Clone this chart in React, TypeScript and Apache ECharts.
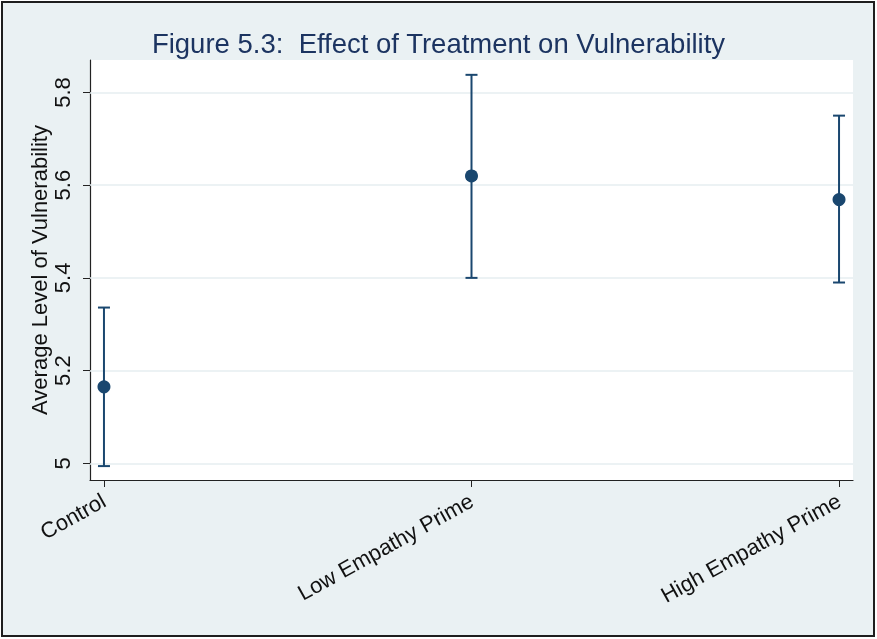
import React, { useEffect, useRef } from "react";
import * as echarts from "echarts";

const categories = ["Control", "Low Empathy Prime", "High Empathy Prime"];
const means = [5.165, 5.62, 5.569];
const lowers = [4.994, 5.4, 5.39];
const uppers = [5.336, 5.838, 5.75];
const yTicks = [5, 5.2, 5.4, 5.6, 5.8];
const xTicks = [0, 1, 2];

const FONT = "'Liberation Sans', Arial, Helvetica, sans-serif";
const NAVY = "#1a476f";

export default function App() {
  const ref = useRef<HTMLDivElement>(null);
  useEffect(() => {
    if (!ref.current) return;
    const chart = echarts.init(ref.current, undefined, { renderer: "svg" });
    const pts = categories.map((_, i) => [i, means[i]]);
    const bars = categories.map((_, i) => [i, lowers[i], uppers[i]]);
    chart.setOption({
      animation: false,
      backgroundColor: "transparent",
      textStyle: { fontFamily: FONT },
      graphic: [
        {
          type: "rect",
          z: -10,
          silent: true,
          shape: { x: 2, y: 2, width: 872, height: 634 },
          style: { fill: "#EAF1F3", stroke: "#1e1e1e", lineWidth: 2 },
        },
      ],
      title: {
        text: "Figure 5.3:  Effect of Treatment on Vulnerability",
        left: "center",
        top: 24,
        textStyle: { fontFamily: FONT, fontSize: 27.5, fontWeight: "normal", color: "#1c3461" },
      },
      grid: {
        left: 90,
        top: 60,
        right: 24,
        bottom: 159,
        show: true,
        backgroundColor: "#ffffff",
        borderWidth: 0,
      },
      xAxis: {
        type: "value",
        min: -0.038,
        max: 2.038,
        splitLine: { show: false },
        axisLine: { show: true, onZero: false, lineStyle: { color: "#222", width: 1.2 } },
        axisTick: { show: true, customValues: xTicks, length: 7, lineStyle: { color: "#222" } },
        axisLabel: {
          customValues: xTicks,
          formatter: (v: number) => categories[Math.round(v)] ?? "",
          rotate: 29,
          margin: 19,
          fontSize: 22,
          fontFamily: FONT,
          color: "#111",
        },
      },
      yAxis: {
        type: "value",
        min: 4.964,
        max: 5.87,
        name: "Average Level of Vulnerability",
        nameLocation: "middle",
        nameRotate: 90,
        nameGap: 40,
        nameMoveOverlap: false,
        nameTextStyle: { fontFamily: FONT, fontSize: 22, color: "#111" },
        splitLine: { show: false },
        axisLine: { show: true, onZero: false, lineStyle: { color: "#222", width: 1.2 } },
        axisTick: { show: true, customValues: yTicks, length: 7, lineStyle: { color: "#222" } },
        axisLabel: {
          customValues: yTicks,
          formatter: (v: number) => String(Math.round(v * 10) / 10),
          rotate: 90,
          margin: 17,
          fontSize: 22,
          fontFamily: FONT,
          color: "#111",
        },
      },
      series: [
        {
          type: "custom",
          z: 3,
          data: bars,
          renderItem: (params: any, api: any) => {
            const x = api.value(0);
            const lo = api.coord([x, api.value(1)]);
            const hi = api.coord([x, api.value(2)]);
            const w = 6;
            const st = { stroke: NAVY, lineWidth: 2 };
            return {
              type: "group",
              children: [
                { type: "line", shape: { x1: lo[0], y1: lo[1], x2: hi[0], y2: hi[1] }, style: st },
                { type: "line", shape: { x1: lo[0] - w, y1: lo[1], x2: lo[0] + w, y2: lo[1] }, style: st },
                { type: "line", shape: { x1: hi[0] - w, y1: hi[1], x2: hi[0] + w, y2: hi[1] }, style: st },
              ],
            };
          },
        },
        {
          type: "scatter",
          z: 4,
          data: pts,
          symbol: "circle",
          symbolSize: 13,
          itemStyle: { color: NAVY, opacity: 1 },
          markLine: {
            silent: true,
            symbol: ["none", "none"],
            label: { show: false },
            z: 1,
            lineStyle: { color: "#E6EEF1", width: 1.5, type: "solid" },
            data: yTicks.map((v) => ({ yAxis: v })),
          },
        },
      ],
    });
    return () => chart.dispose();
  }, []);
  return (
    <div
      ref={ref}
      style={{ position: "fixed", left: 0, top: 0, width: 877, height: 639 }}
    />
  );
}
